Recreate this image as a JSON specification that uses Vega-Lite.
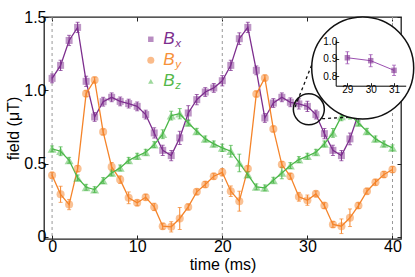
{
"$schema": "https://vega.github.io/schema/vega-lite/v6.json",
"width": 357, "height": 222,
"autosize": {"type": "none"},
"padding": {"left": 44, "top": 17, "right": 14, "bottom": 38},
"background": "white",
"config": {
  "view": {"stroke": "#222", "strokeWidth": 1.3},
  "font": "Liberation Sans",
  "axis": {"labelFont": "Liberation Sans", "titleFont": "Liberation Sans", "labelColor": "#000", "titleColor": "#000", "titleFontWeight": "normal", "grid": false, "domain": false, "tickColor": "#222", "tickWidth": 1}
},
"datasets": {
  "main": [
{"t":0,"s":"Bx","v":1.081,"e":0.03},{"t":1,"s":"Bx","v":1.17,"e":0.035},{"t":2,"s":"Bx","v":1.34,"e":0.035},{"t":3,"s":"Bx","v":1.429,"e":0.035},{"t":4,"s":"Bx","v":1.061,"e":0.035},{"t":5,"s":"Bx","v":0.818,"e":0.03},{"t":6,"s":"Bx","v":0.922,"e":0.03},{"t":7,"s":"Bx","v":0.952,"e":0.03},{"t":8,"s":"Bx","v":0.924,"e":0.03},{"t":9,"s":"Bx","v":0.909,"e":0.03},{"t":10,"s":"Bx","v":0.89,"e":0.03},{"t":11,"s":"Bx","v":0.834,"e":0.03},{"t":12,"s":"Bx","v":0.709,"e":0.035},{"t":13,"s":"Bx","v":0.59,"e":0.035},{"t":14,"s":"Bx","v":0.554,"e":0.035},{"t":15,"s":"Bx","v":0.675,"e":0.045},{"t":16,"s":"Bx","v":0.845,"e":0.05},{"t":17,"s":"Bx","v":0.936,"e":0.035},{"t":18,"s":"Bx","v":0.988,"e":0.03},{"t":19,"s":"Bx","v":1.016,"e":0.03},{"t":20,"s":"Bx","v":1.065,"e":0.035},{"t":21,"s":"Bx","v":1.17,"e":0.035},{"t":22,"s":"Bx","v":1.352,"e":0.04},{"t":23,"s":"Bx","v":1.429,"e":0.035},{"t":24,"s":"Bx","v":1.136,"e":0.03},{"t":25,"s":"Bx","v":0.811,"e":0.03},{"t":26,"s":"Bx","v":0.913,"e":0.03},{"t":27,"s":"Bx","v":0.952,"e":0.03},{"t":28,"s":"Bx","v":0.918,"e":0.03},{"t":29,"s":"Bx","v":0.907,"e":0.035},{"t":30,"s":"Bx","v":0.89,"e":0.035},{"t":31,"s":"Bx","v":0.834,"e":0.03},{"t":32,"s":"Bx","v":0.704,"e":0.035},{"t":33,"s":"Bx","v":0.59,"e":0.035},{"t":34,"s":"Bx","v":0.554,"e":0.035},{"t":35,"s":"Bx","v":0.668,"e":0.04},{"t":36,"s":"Bx","v":0.84,"e":0.05},{"t":37,"s":"Bx","v":0.93,"e":0.035},{"t":38,"s":"Bx","v":0.985,"e":0.03},{"t":39,"s":"Bx","v":1.012,"e":0.03},{"t":40,"s":"Bx","v":1.06,"e":0.035},
{"t":0,"s":"By","v":0.42,"e":0.02},{"t":1,"s":"By","v":0.29,"e":0.055},{"t":2,"s":"By","v":0.22,"e":0.035},{"t":3,"s":"By","v":0.465,"e":0.02},{"t":4,"s":"By","v":0.977,"e":0.02},{"t":5,"s":"By","v":1.07,"e":0.02},{"t":6,"s":"By","v":0.716,"e":0.02},{"t":7,"s":"By","v":0.477,"e":0.03},{"t":8,"s":"By","v":0.39,"e":0.025},{"t":9,"s":"By","v":0.266,"e":0.04},{"t":10,"s":"By","v":0.232,"e":0.02},{"t":11,"s":"By","v":0.27,"e":0.02},{"t":12,"s":"By","v":0.204,"e":0.025},{"t":13,"s":"By","v":0.072,"e":0.02},{"t":14,"s":"By","v":0.068,"e":0.035},{"t":15,"s":"By","v":0.125,"e":0.075},{"t":16,"s":"By","v":0.204,"e":0.02},{"t":17,"s":"By","v":0.307,"e":0.02},{"t":18,"s":"By","v":0.357,"e":0.02},{"t":19,"s":"By","v":0.413,"e":0.02},{"t":20,"s":"By","v":0.44,"e":0.025},{"t":21,"s":"By","v":0.311,"e":0.036},{"t":22,"s":"By","v":0.243,"e":0.068},{"t":23,"s":"By","v":0.464,"e":0.02},{"t":24,"s":"By","v":0.975,"e":0.02},{"t":25,"s":"By","v":1.084,"e":0.02},{"t":26,"s":"By","v":0.736,"e":0.02},{"t":27,"s":"By","v":0.493,"e":0.02},{"t":28,"s":"By","v":0.413,"e":0.02},{"t":29,"s":"By","v":0.273,"e":0.03},{"t":30,"s":"By","v":0.25,"e":0.035},{"t":31,"s":"By","v":0.293,"e":0.02},{"t":32,"s":"By","v":0.213,"e":0.02},{"t":33,"s":"By","v":0.084,"e":0.02},{"t":34,"s":"By","v":0.072,"e":0.05},{"t":35,"s":"By","v":0.13,"e":0.06},{"t":36,"s":"By","v":0.213,"e":0.02},{"t":37,"s":"By","v":0.311,"e":0.02},{"t":38,"s":"By","v":0.372,"e":0.02},{"t":39,"s":"By","v":0.425,"e":0.02},{"t":40,"s":"By","v":0.459,"e":0.02},
{"t":0,"s":"Bz","v":0.6,"e":0.02},{"t":1,"s":"Bz","v":0.584,"e":0.03},{"t":2,"s":"Bz","v":0.522,"e":0.02},{"t":3,"s":"Bz","v":0.402,"e":0.02},{"t":4,"s":"Bz","v":0.338,"e":0.02},{"t":5,"s":"Bz","v":0.322,"e":0.02},{"t":6,"s":"Bz","v":0.384,"e":0.02},{"t":7,"s":"Bz","v":0.436,"e":0.02},{"t":8,"s":"Bz","v":0.47,"e":0.02},{"t":9,"s":"Bz","v":0.522,"e":0.02},{"t":10,"s":"Bz","v":0.55,"e":0.02},{"t":11,"s":"Bz","v":0.577,"e":0.02},{"t":12,"s":"Bz","v":0.629,"e":0.02},{"t":13,"s":"Bz","v":0.7,"e":0.03},{"t":14,"s":"Bz","v":0.827,"e":0.03},{"t":15,"s":"Bz","v":0.84,"e":0.035},{"t":16,"s":"Bz","v":0.777,"e":0.02},{"t":17,"s":"Bz","v":0.72,"e":0.02},{"t":18,"s":"Bz","v":0.668,"e":0.02},{"t":19,"s":"Bz","v":0.634,"e":0.02},{"t":20,"s":"Bz","v":0.607,"e":0.025},{"t":21,"s":"Bz","v":0.584,"e":0.04},{"t":22,"s":"Bz","v":0.504,"e":0.06},{"t":23,"s":"Bz","v":0.425,"e":0.02},{"t":24,"s":"Bz","v":0.341,"e":0.02},{"t":25,"s":"Bz","v":0.334,"e":0.02},{"t":26,"s":"Bz","v":0.386,"e":0.02},{"t":27,"s":"Bz","v":0.436,"e":0.04},{"t":28,"s":"Bz","v":0.486,"e":0.02},{"t":29,"s":"Bz","v":0.527,"e":0.02},{"t":30,"s":"Bz","v":0.55,"e":0.02},{"t":31,"s":"Bz","v":0.577,"e":0.02},{"t":32,"s":"Bz","v":0.634,"e":0.02},{"t":33,"s":"Bz","v":0.709,"e":0.03},{"t":34,"s":"Bz","v":0.822,"e":0.03},{"t":35,"s":"Bz","v":0.834,"e":0.03},{"t":36,"s":"Bz","v":0.777,"e":0.02},{"t":37,"s":"Bz","v":0.72,"e":0.02},{"t":38,"s":"Bz","v":0.668,"e":0.02},{"t":39,"s":"Bz","v":0.634,"e":0.02},{"t":40,"s":"Bz","v":0.607,"e":0.02}
  ]
},
"layer": [
  {
    "layer": [
      {
        "data": {"name": "main"},
        "mark": {"type": "point", "opacity": 0},
        "encoding": {
          "x": {"field": "t", "type": "quantitative", "scale": {"domain": [-0.95, 41], "nice": false, "zero": false}, "axis": {"orient": "top", "values": [0, 10, 20, 30, 40], "labels": false, "title": null, "tickSize": -4}},
          "y": {"field": "v", "type": "quantitative", "scale": {"domain": [-0.015, 1.5], "nice": false, "zero": false}, "axis": {"orient": "right", "values": [0, 0.5, 1, 1.5], "labels": false, "title": null, "tickSize": -4}}
        }
      },
      {
        "data": {"name": "main"},
        "mark": {"type": "point", "opacity": 0},
        "encoding": {
          "x": {"field": "t", "type": "quantitative", "scale": {"domain": [-0.95, 41], "nice": false, "zero": false}, "axis": {"orient": "bottom", "values": [0, 10, 20, 30, 40], "title": "time (ms)", "tickSize": -4, "labelPadding": 3, "labelFontSize": 16, "titleFontSize": 16, "titlePadding": 2}},
          "y": {"field": "v", "type": "quantitative", "scale": {"domain": [-0.015, 1.5], "nice": false, "zero": false}, "axis": {"orient": "left", "values": [0, 0.5, 1, 1.5], "labelExpr": "datum.value == 0 ? '0' : format(datum.value, '.1f')", "title": "field (μT)", "tickSize": -4, "labelPadding": 2, "labelFontSize": 16, "titleFontSize": 16, "titlePadding": 2}}
        }
      },
      {
        "layer": [
          {
            "data": {"values": [{"t": 0}, {"t": 20}, {"t": 40}]},
            "mark": {"type": "rule", "color": "#999", "strokeDash": [3, 3], "strokeWidth": 1},
            "encoding": {"x": {"field": "t", "type": "quantitative", "axis": null}}
          },
          {
            "data": {"name": "main"},
            "mark": {"type": "errorbar", "ticks": {"size": 4}, "thickness": 1},
            "encoding": {
              "x": {"field": "t", "type": "quantitative", "axis": null},
              "y": {"field": "v", "type": "quantitative", "axis": null},
              "yError": {"field": "e"},
              "color": {"field": "s", "type": "nominal", "scale": {"domain": ["Bx", "By", "Bz"], "range": ["#7d2e8e", "#f5842a", "#4cb849"]}, "legend": null}
            }
          },
          {
            "data": {"name": "main"},
            "mark": {"type": "line", "strokeWidth": 1.3},
            "encoding": {
              "x": {"field": "t", "type": "quantitative", "axis": null},
              "y": {"field": "v", "type": "quantitative", "axis": null},
              "color": {"field": "s", "type": "nominal", "legend": null}
            }
          },
          {
            "data": {"name": "main"},
            "mark": {"type": "point", "filled": true, "opacity": 0.5},
            "encoding": {
              "x": {"field": "t", "type": "quantitative", "axis": null},
              "y": {"field": "v", "type": "quantitative", "axis": null},
              "color": {"field": "s", "type": "nominal", "legend": null},
              "shape": {"field": "s", "type": "nominal", "scale": {"domain": ["Bx", "By", "Bz"], "range": ["square", "circle", "triangle-up"]}, "legend": null},
              "size": {"field": "s", "type": "nominal", "scale": {"domain": ["Bx", "By", "Bz"], "range": [49, 81, 49]}, "legend": null}
            }
          },
          {
            "data": {"values": [{"s": "Bx", "b": "B", "sub": "x"}]},
            "encoding": {"y": {"datum": 1.348}},
            "layer": [
              {"mark": {"type": "point", "shape": "square", "filled": true, "size": 30, "color": "#7d2e8e", "opacity": 0.55}, "encoding": {"x": {"datum": 11.6}}},
              {"mark": {"type": "text", "fontStyle": "italic", "fontSize": 17, "align": "left", "baseline": "middle", "color": "#7d2e8e"}, "encoding": {"x": {"datum": 13.06}, "text": {"field": "b"}}},
              {"mark": {"type": "text", "fontStyle": "italic", "fontSize": 11.5, "align": "left", "baseline": "middle", "color": "#7d2e8e", "dx": 12, "dy": 5}, "encoding": {"x": {"datum": 13.06}, "text": {"field": "sub"}}}
            ]
          },
          {
            "data": {"values": [{"s": "By", "b": "B", "sub": "y"}]},
            "encoding": {"y": {"datum": 1.204}},
            "layer": [
              {"mark": {"type": "point", "shape": "circle", "filled": true, "size": 49, "color": "#f5842a", "opacity": 0.55}, "encoding": {"x": {"datum": 11.6}}},
              {"mark": {"type": "text", "fontStyle": "italic", "fontSize": 17, "align": "left", "baseline": "middle", "color": "#f7923a"}, "encoding": {"x": {"datum": 13.06}, "text": {"field": "b"}}},
              {"mark": {"type": "text", "fontStyle": "italic", "fontSize": 11.5, "align": "left", "baseline": "middle", "color": "#f7923a", "dx": 12, "dy": 5}, "encoding": {"x": {"datum": 13.06}, "text": {"field": "sub"}}}
            ]
          },
          {
            "data": {"values": [{"s": "Bz", "b": "B", "sub": "z"}]},
            "encoding": {"y": {"datum": 1.061}},
            "layer": [
              {"mark": {"type": "point", "shape": "triangle-up", "filled": true, "size": 30, "color": "#4cb849", "opacity": 0.55}, "encoding": {"x": {"datum": 11.6}}},
              {"mark": {"type": "text", "fontStyle": "italic", "fontSize": 17, "align": "left", "baseline": "middle", "color": "#55b84a"}, "encoding": {"x": {"datum": 13.06}, "text": {"field": "b"}}},
              {"mark": {"type": "text", "fontStyle": "italic", "fontSize": 11.5, "align": "left", "baseline": "middle", "color": "#55b84a", "dx": 12, "dy": 5}, "encoding": {"x": {"datum": 13.06}, "text": {"field": "sub"}}}
            ]
          },
          {
            "data": {"values": [{"note": "zoom"}]},
            "mark": {"type": "point", "shape": "circle", "size": 961, "color": "#111", "strokeWidth": 1.5, "opacity": 1},
            "encoding": {"x": {"datum": 30.17}, "y": {"datum": 0.87}}
          },
          {
            "data": {"values": [{"note": "c1"}]},
            "mark": {"type": "rule", "color": "#111", "strokeDash": [3, 3], "strokeWidth": 1.3},
            "encoding": {"x": {"datum": 28.55}, "y": {"datum": 0.886}, "x2": {"datum": 30.62}, "y2": {"datum": 1.19}}
          },
          {
            "data": {"values": [{"note": "c2"}]},
            "mark": {"type": "rule", "color": "#111", "strokeDash": [3, 3], "strokeWidth": 1.3},
            "encoding": {"x": {"datum": 31.73}, "y": {"datum": 0.806}, "x2": {"datum": 36.0}, "y2": {"datum": 0.82}}
          },
          {
            "data": {"values": [{"note": "inset"}]},
            "mark": {"type": "point", "shape": "circle", "size": 10404, "filled": true, "fill": "white", "stroke": "#111", "strokeWidth": 1.5, "opacity": 1},
            "encoding": {"x": {"datum": 36.5}, "y": {"datum": 1.152}}
          }
        ]
      }
    ],
    "resolve": {"axis": {"x": "independent", "y": "independent"}}
  },
  {
    "data": {"name": "main"},
    "transform": [{"filter": "datum.s == 'Bx' && datum.t >= 29 && datum.t <= 31"}],
    "encoding": {
      "x": {"field": "t", "type": "quantitative", "scale": {"domain": [28.5, 31.5], "range": [291.7, 361.7], "nice": false, "zero": false}, "axis": {"orient": "bottom", "offset": -153.3, "zindex": 2, "values": [29, 30, 31], "title": null, "domain": true, "domainColor": "#000", "domainWidth": 1, "tickSize": -3, "labelPadding": 2, "labelFontSize": 10, "labelOverlap": false, "labelFlush": false, "labelBound": false}},
      "y": {"field": "v", "type": "quantitative", "scale": {"domain": [0.745, 1.01], "range": [68.7, 22.97], "nice": false, "zero": false}, "axis": {"orient": "left", "offset": -291.7, "zindex": 2, "values": [0.8, 0.9, 1], "format": ".1f", "title": null, "domain": true, "domainColor": "#000", "domainWidth": 1, "tickSize": -3, "labelPadding": 2, "labelFontSize": 10, "labelOverlap": false, "labelFlush": false, "labelBound": false, "labelBaseline": "middle"}}
    },
    "layer": [
      {"mark": {"type": "errorbar", "ticks": {"size": 4}, "thickness": 1, "color": "#9b4fb0"}, "encoding": {"yError": {"field": "e"}}},
      {"mark": {"type": "line", "strokeWidth": 1, "color": "#9b4fb0"}},
      {"mark": {"type": "point", "shape": "square", "filled": true, "size": 30, "color": "#7d2e8e", "opacity": 0.6}},
      {
        "data": {"values": [{"s": "Bx", "t": 30, "lab": "1.0"}]},
        "mark": {"type": "text", "align": "right", "baseline": "middle", "dx": -2.5, "fontSize": 10, "font": "Liberation Sans", "color": "#000"},
        "encoding": {"x": {"datum": 28.5}, "y": {"datum": 1.0}, "text": {"field": "lab"}}
      }
    ]
  }
],
"resolve": {"scale": {"x": "independent", "y": "independent"}}
}
